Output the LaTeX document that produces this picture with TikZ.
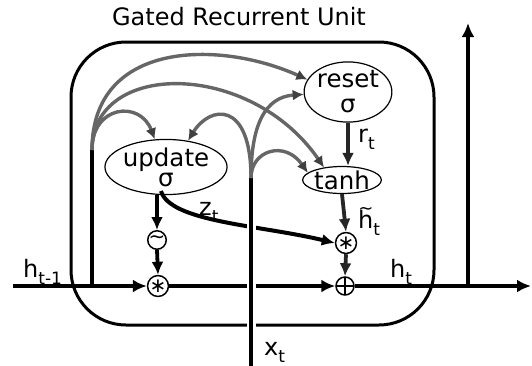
\documentclass[tikz,border=0pt]{standalone}
\usepackage{fontspec}
\setmainfont{DejaVu Sans}
\usetikzlibrary{arrows.meta,shapes.geometric}
\newcommand{\lbl}[2]{#1\raisebox{-0.3em}{\fontsize{17}{17}\selectfont #2}}
\newcommand{\htil}{\ooalign{h\cr\hidewidth\raisebox{14pt}{\fontsize{18}{18}\selectfont\char"007E}\hidewidth\cr}}
\begin{document}
\begin{tikzpicture}[x=1pt,y=-1pt,
  every node/.style={font=\fontsize{24}{25}\selectfont, inner sep=0pt},
  gate/.style={draw, ellipse, line width=1.2pt, align=center},
  op/.style={draw, circle, line width=1.5pt, minimum size=18pt},
  plusop/.style={op, path picture={\draw[line width=1.5pt]
      (path picture bounding box.north) -- (path picture bounding box.south)
      (path picture bounding box.west) -- (path picture bounding box.east);}},
  mainline/.style={line width=3.5pt, -{Latex[length=14pt,width=13pt]}},
  conn/.style={line width=3.8pt, draw=black!85, -{Latex[length=13pt,width=12pt,color=black!85]}},
  feed/.style={line width=3.4pt, draw=black!60, -{Latex[length=11pt,width=11pt,color=black!75]}},
  unitbox/.style={line width=3pt, rounded corners=55pt},
]
\useasboundingbox (0,0) rectangle (532,365);

% title and cell box
\node[anchor=base] (title) at (239,25) {Gated Recurrent Unit};
\draw[unitbox] (71,42) rectangle (434,325);

% gates and operators
\node[gate, minimum width=104pt, minimum height=46pt, font=\fontsize{24.5}{20}\selectfont] (update) at (166,167) {update\\σ};
\node[gate, minimum width=78pt, minimum height=56pt, font=\fontsize{24.5}{25}\selectfont] (reset) at (348,92) {reset\\σ};
\node[gate, minimum width=68pt, minimum height=27pt, font=\fontsize{24.5}{25}\selectfont] (tanh) at (342,180) {tanh};
\node[op, font=\fontsize{20}{20}\selectfont] (lmul) at (158,286) {∗};
\node[op, font=\fontsize{20}{20}\selectfont] (tilde) at (157,240) {\char"007E};
\node[op, font=\fontsize{20}{20}\selectfont] (rmul) at (346,243) {∗};
\node[plusop] (plus) at (345,286) {};

% coordinates
\coordinate (hin) at (13,286);
\coordinate (hout) at (531,286);
\coordinate (upbase) at (468,286);
\coordinate (uptop) at (468,23);
\coordinate (hbr) at (92,286);
\coordinate (htop) at (92,150);
\coordinate (xbot) at (251,366);
\coordinate (xtop) at (251,178);

% labels
\node[anchor=base west] (lh1) at (23,277) {\lbl{h}{t-1}};
\node[anchor=base west] (lh) at (390,277) {\lbl{h}{t}};
\node[anchor=base west] (lx) at (264,355) {\lbl{x}{t}};
\node[anchor=base west] (lz) at (199,215) {\lbl{z}{t}};
\node[anchor=base west] (lr) at (358,142) {\lbl{r}{t}};
\node[anchor=base west] (lht) at (358,228) {\lbl{\htil}{t}};

% main state line
\draw[mainline] (hin) -- (lmul.west);
\draw[mainline] (lmul.east) -- (plus.west);
\draw[mainline] (plus.east) -- (hout);
\draw[mainline] (upbase) -- (uptop);
\draw[line width=3.5pt] (hbr) -- (htop);

% gate connectors
\draw[conn] (reset.south) -- (reset.south |- tanh.north);
\draw[conn] (tanh.south) -- (rmul.north);
\draw[conn] (rmul.south) -- (plus.north);
\draw[conn, draw=black, -{Latex[length=13pt,width=12pt]}] (tilde.north |- update.south) -- (tilde.north);
\draw[conn, draw=black, -{Latex[length=13pt,width=12pt]}] (tilde.south) -- (lmul.north);
\draw[line width=4pt, -{Latex[length=13pt,width=12pt]}] (161,191) .. controls (170,222) and (260,225) .. (rmul.west);

% input line x_t
\draw[line width=3.3pt, preaction={draw=white, line width=9pt}] (xbot) -- (xtop);

% feeds from h_{t-1}
\draw[feed] (htop) .. controls (92,40) and (220,40) .. (reset.163);
\draw[feed] (htop) .. controls (92,60) and (250,60) .. (tanh.145);
\draw[feed] (htop) .. controls (92,105) and (140,100) .. (update.112);
% feeds from x_t
\draw[feed] (xtop) .. controls (251,100) and (210,105) .. (update.50);
\draw[feed] (xtop) .. controls (251,125) and (265,97) .. (reset.183);
\draw[feed] (xtop) .. controls (251,150) and (285,140) .. (tanh.168);
\end{tikzpicture}
\end{document}
